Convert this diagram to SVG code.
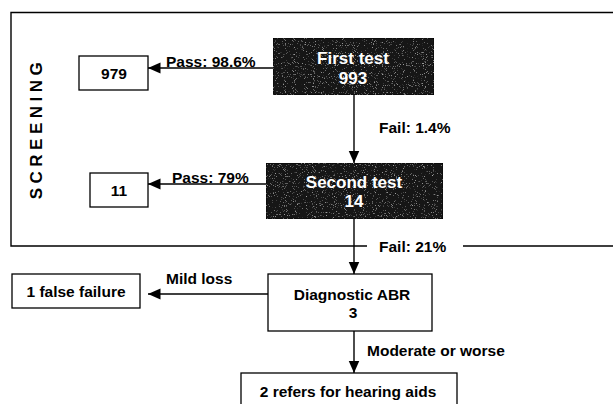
<svg xmlns="http://www.w3.org/2000/svg" width="613" height="404" viewBox="0 0 613 404">
  <defs>
    <marker id="arrow" markerUnits="userSpaceOnUse" markerWidth="13" markerHeight="12" refX="12.5" refY="6" orient="auto">
      <path d="M0,0.5 L12.5,6 L0,11.5 Z" fill="#000"/>
    </marker>
    <filter id="grain" x="0" y="0" width="100%" height="100%">
      <feTurbulence type="fractalNoise" baseFrequency="0.9" numOctaves="2" seed="3" result="n"/>
      <feColorMatrix in="n" type="matrix" values="0 0 0 0 0.55  0 0 0 0 0.55  0 0 0 0 0.55  0 0 0 3 -1.9" result="g"/>
      <feComposite in="g" in2="SourceGraphic" operator="in" result="gc"/>
      <feMerge><feMergeNode in="SourceGraphic"/><feMergeNode in="gc"/></feMerge>
    </filter>
  </defs>
  <style>
    text { font-family: "Liberation Sans", Arial, sans-serif; font-weight: bold; fill: #000; }
    .lbl { font-size: 15.5px; }
    .title { font-size: 17px; fill: #fff; text-anchor: middle; }
    .mid { text-anchor: middle; }
    .box { fill: #fff; stroke: #000; stroke-width: 1.3; }
    .dark { fill: #141414; stroke: #000; stroke-width: 1.3; }
    .conn { stroke: #000; stroke-width: 1.4; fill: none; }
    .frame { stroke: #000; stroke-width: 1.4; fill: none; }
  </style>
  <rect width="613" height="404" fill="#fff"/>

  <g id="screening-frame">
    <path class="frame" d="M613,12.5 H11 V246 H367 M463,246 H613"/>
    <text class="mid" transform="translate(41.5,128.5) rotate(-90)" style="font-size:17px;letter-spacing:4.5px">SCREENING</text>
  </g>

  <g id="connectors">
    <line class="conn" x1="273" y1="68" x2="148" y2="68" marker-end="url(#arrow)"/>
    <line class="conn" x1="354" y1="95" x2="354" y2="163" marker-end="url(#arrow)"/>
    <line class="conn" x1="266" y1="184" x2="148" y2="184" marker-end="url(#arrow)"/>
    <line class="conn" x1="354" y1="219" x2="354" y2="274" marker-end="url(#arrow)"/>
    <line class="conn" x1="268" y1="294" x2="148" y2="294" marker-end="url(#arrow)"/>
    <line class="conn" x1="354" y1="331" x2="354" y2="373" marker-end="url(#arrow)"/>
    <text class="lbl" x="166" y="66.5">Pass: 98.6%</text>
    <text class="lbl" x="379" y="133">Fail: 1.4%</text>
    <text class="lbl" x="172" y="182.5">Pass: 79%</text>
    <text class="lbl" x="379" y="251.5">Fail: 21%</text>
    <text class="lbl" x="166" y="283.5">Mild loss</text>
    <text class="lbl" x="367" y="355.5">Moderate or worse</text>
  </g>

  <g id="first-test">
    <rect class="dark" x="273" y="38" width="161" height="57" filter="url(#grain)"/>
    <text class="title" x="353" y="63.5">First test</text>
    <text class="title" x="353" y="84">993</text>
  </g>

  <g id="pass-979">
    <rect class="box" x="79" y="56" width="69" height="34"/>
    <text class="lbl mid" x="114" y="79">979</text>
  </g>

  <g id="second-test">
    <rect class="dark" x="266" y="163" width="177" height="56" filter="url(#grain)"/>
    <text class="title" x="354" y="188">Second test</text>
    <text class="title" x="354" y="207">14</text>
  </g>

  <g id="pass-11">
    <rect class="box" x="90" y="173" width="58" height="34"/>
    <text class="lbl mid" x="119" y="196">11</text>
  </g>

  <g id="diagnostic-abr">
    <rect class="box" x="268" y="274" width="164" height="57"/>
    <text class="lbl mid" x="352" y="299.5">Diagnostic ABR</text>
    <text class="lbl mid" x="353" y="317.5">3</text>
  </g>

  <g id="false-failure">
    <rect class="box" x="12" y="274" width="128" height="34"/>
    <text class="lbl mid" x="76" y="297">1 false failure</text>
  </g>

  <g id="hearing-aids">
    <rect class="box" x="241" y="373" width="216" height="40"/>
    <text class="lbl mid" x="348" y="397">2 refers for hearing aids</text>
  </g>
</svg>
